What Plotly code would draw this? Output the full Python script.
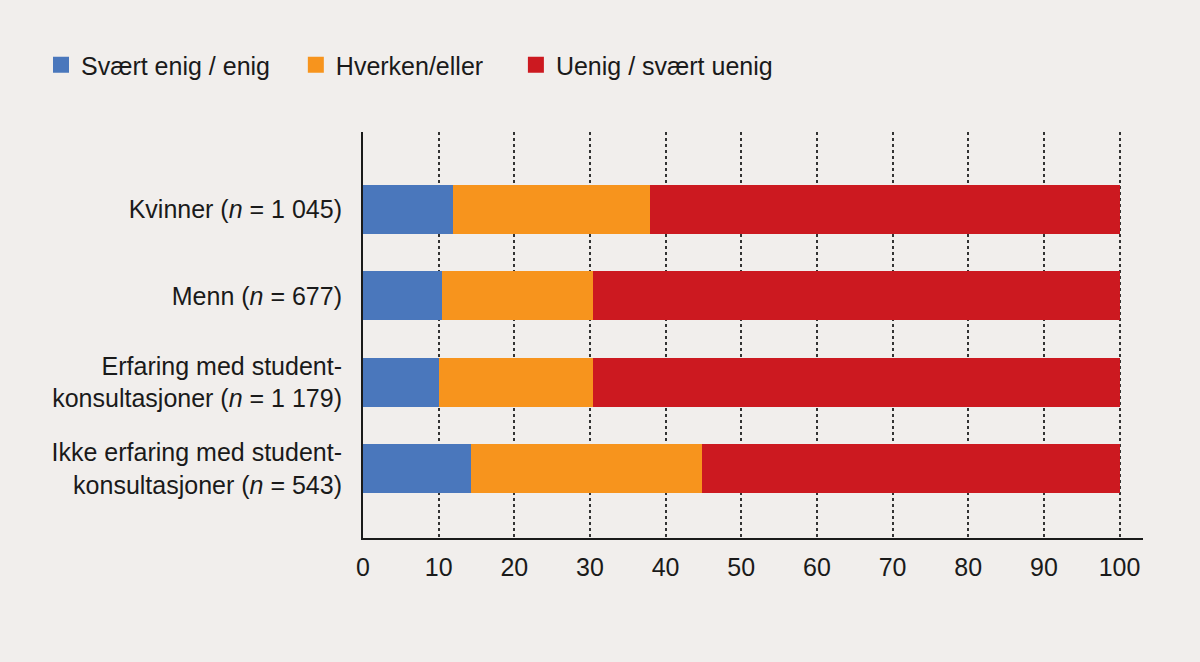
import plotly.graph_objects as go

categories = [
    "Kvinner (<i>n</i> = 1 045)",
    "Menn (<i>n</i> = 677)",
    "Erfaring med student-<br>konsultasjoner (<i>n</i> = 1 179)",
    "Ikke erfaring med student-<br>konsultasjoner (<i>n</i> = 543)",
]
series_names = ["Svært enig / enig", "Hverken/eller", "Uenig / svært uenig"]
enig = [11.9, 10.4, 10.0, 14.3]
hverken = [26.1, 20.0, 20.4, 30.5]
uenig = [62.0, 69.6, 69.6, 55.2]
x_ticks = [0, 10, 20, 30, 40, 50, 60, 70, 80, 90, 100]

colors = ["#4A77BC", "#F7941D", "#CC1920"]
BG = "#F1EEEC"
FONT = "Liberation Sans, Arial, sans-serif"
INK = "#1a1a1a"
PADS = ["\u00a0\u00a0\u00a0", "\u00a0\u00a0\u00a0\u00a0", ""]

fig = go.Figure()
for name, vals, col in zip(series_names, [enig, hverken, uenig], colors):
    fig.add_trace(go.Bar(
        y=categories, x=vals, orientation="h", name=name,
        marker=dict(color=col, line=dict(width=0)),
        showlegend=False, hoverinfo="x+name",
    ))
# legend entries (square markers)
for name, col, pad in zip(series_names, colors, PADS):
    fig.add_trace(go.Scatter(
        x=[None], y=[None], mode="markers", name=name + pad,
        marker=dict(symbol="square", size=20, color=col),
        showlegend=True, hoverinfo="skip",
    ))

fig.update_layout(
    width=1200, height=662,
    barmode="stack",
    bargap=0.43,
    paper_bgcolor=BG, plot_bgcolor=BG,
    margin=dict(l=363, r=57, t=132, b=124),
    font=dict(family=FONT, size=25, color=INK),
    legend=dict(
        orientation="h", x=-363/780 + 41/780, xanchor="left",
        y=1 + 67/406, yanchor="middle", traceorder="normal",
        font=dict(family=FONT, size=25, color=INK),
        bgcolor="rgba(0,0,0,0)",
        itemclick=False,
    ),
    showlegend=True,
)
fig.update_xaxes(
    range=[0, 103.1], tickvals=x_ticks, ticktext=[str(v) for v in x_ticks],
    showgrid=True, gridcolor="#333333", griddash="dot", gridwidth=1.5,
    zeroline=False, showline=True, linecolor=INK, linewidth=2,
    ticks="", ticklabelstandoff=6,
    tickfont=dict(family=FONT, size=25, color=INK),
)
fig.update_yaxes(
    type="category", categoryorder="array", categoryarray=categories,
    range=[3.805, -0.898],
    showgrid=False, zeroline=False, showline=True, linecolor=INK, linewidth=2,
    ticks="", ticklabelstandoff=14,
    tickfont=dict(family=FONT, size=25, color=INK),
)

fig.write_html("out.html")
